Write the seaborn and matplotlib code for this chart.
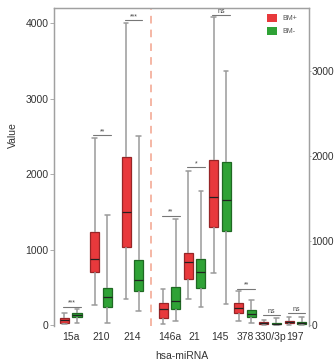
import numpy as np
import pandas as pd
import seaborn as sns
import matplotlib.pyplot as plt
from matplotlib.patches import Patch

# miRNAs: the first three are read on the left axis, the rest on the right axis
mirnas = ["15a", "210", "214", "146a", "21", "145", "378", "330/3p", "197"]
n_left = 3

# five-number summaries (min, q1, median, q3, max)
bm_pos = [
    [10, 26, 66, 93, 160],
    [260, 706, 878, 1228, 2477],
    [340, 1037, 1492, 2225, 4004],
    [15, 79, 186, 265, 423],
    [312, 549, 747, 858, 1827],
    [620, 1154, 1518, 1953, 3638],
    [47, 146, 198, 265, 403],
    [2, 12, 24, 39, 56],
    [5, 20, 35, 47, 95],
]
bm_neg = [
    [25, 110, 132, 155, 208],
    [31, 243, 367, 486, 1457],
    [185, 450, 596, 861, 2503],
    [47, 186, 285, 451, 1254],
    [214, 443, 633, 779, 1590],
    [245, 1115, 1483, 1925, 3005],
    [27, 95, 134, 174, 293],
    [2, 8, 16, 27, 80],
    [3, 12, 20, 32, 95],
]

# significance marks and the height of their bars
sig_labels = ["***", "**", "***", "**", "*", "ns", "**", "ns", "ns"]
sig_height = [245, 2516, 4040, 1293, 1866, 3665, 431, 119, 139]

# horizontal layout of the categories
xpos = [0, 1.2, 2.45, 3.92, 4.92, 5.92, 6.92, 7.92, 8.92]

groups = ["BM+", "BM-"]
colors = {"BM+": "#e8393c", "BM-": "#2fa236"}

rows = []
for i, m in enumerate(mirnas):
    for g, stats in zip(groups, (bm_pos, bm_neg)):
        for v in stats[i]:
            rows.append({"miRNA": m, "x": xpos[i], "group": g, "value": v})
df = pd.DataFrame(rows)

sns.set_style("ticks")
plt.rcParams["font.family"] = ["Liberation Sans", "DejaVu Sans"]

fig = plt.figure(figsize=(3.34, 3.64), dpi=100)
ax = fig.add_axes([0.162, 0.104, 0.763, 0.874])
ax2 = ax.twinx()

common = dict(x="x", y="value", hue="group", hue_order=groups, palette=colors,
              saturation=1, native_scale=True, whis=(0, 100), gap=0.28,
              linewidth=0.9, linecolor="#333", legend=False,
              whiskerprops=dict(color="#9a9a9a", linewidth=1.1),
              capprops=dict(color="#9a9a9a", linewidth=1.1),
              medianprops=dict(color="#222222", linewidth=0.9))

left = df[df["miRNA"].isin(mirnas[:n_left])]
right = df[df["miRNA"].isin(mirnas[n_left:])]
sns.boxplot(data=left, ax=ax, width=1 / 1.2, **common)
sns.boxplot(data=right, ax=ax2, width=1.0, **common)

# darker box outlines
for a in (ax, ax2):
    for p in a.patches:
        fc = p.get_facecolor()
        p.set_edgecolor(tuple(c * 0.65 for c in fc[:3]))

ax.set_ylim(-15, 4200)
ax2.set_ylim(-13, 3750)
ax.set_xlim(-0.66, 9.46)
ax.set_yticks([0, 1000, 2000, 3000, 4000])
ax2.set_yticks([0, 1000, 2000, 3000])
ax.set_xticks(xpos)
ax.set_xticklabels(mirnas)

# separator between the two axis groups
ax.axvline((xpos[n_left - 1] + xpos[n_left]) / 2, color="#f2a38d",
           ls=(0, (5, 4)), lw=1.1, zorder=0)

# significance bars
for i, (lab, h) in enumerate(zip(sig_labels, sig_height)):
    a = ax if i < n_left else ax2
    a.plot([xpos[i] - 0.3, xpos[i] + 0.4], [h, h], color="#777", lw=0.8)
    a.text(xpos[i] + 0.05, h, lab, ha="center", va="bottom", fontsize=5,
           color="#444")

for a in (ax, ax2):
    a.spines["bottom"].set_visible(False)
    for s in ("left", "right", "top"):
        a.spines[s].set_color("#a0a0a0")
        a.spines[s].set_linewidth(0.9)
    a.tick_params(axis="y", length=3, width=0.6, color="#a0a0a0",
                  labelsize=7.5, labelcolor="#333", pad=1)
    a.set_ylabel("")
    a.set_xlabel("")
ax2.tick_params(axis="y", length=1.5, pad=0.5, labelsize=7.3)
ax.tick_params(axis="x", length=0, labelsize=7.5, labelcolor="#333", pad=4)

ax.set_xlabel("hsa-miRNA", fontsize=7.5, color="#333", labelpad=7)
ax.set_ylabel("Value", fontsize=7.5, color="#333")
ax.yaxis.set_label_coords(-0.14, 0.6)

handles = [Patch(facecolor=colors[g], edgecolor="none", label=g) for g in groups]
ax2.legend(handles=handles, loc="upper left", bbox_to_anchor=(0.82, 0.995),
           frameon=False, fontsize=5, handlelength=1.4, handleheight=1.4,
           borderaxespad=0.2, labelspacing=0.7, handletextpad=0.8,
           labelcolor="#555")

fig.savefig("out.png", dpi=100)
